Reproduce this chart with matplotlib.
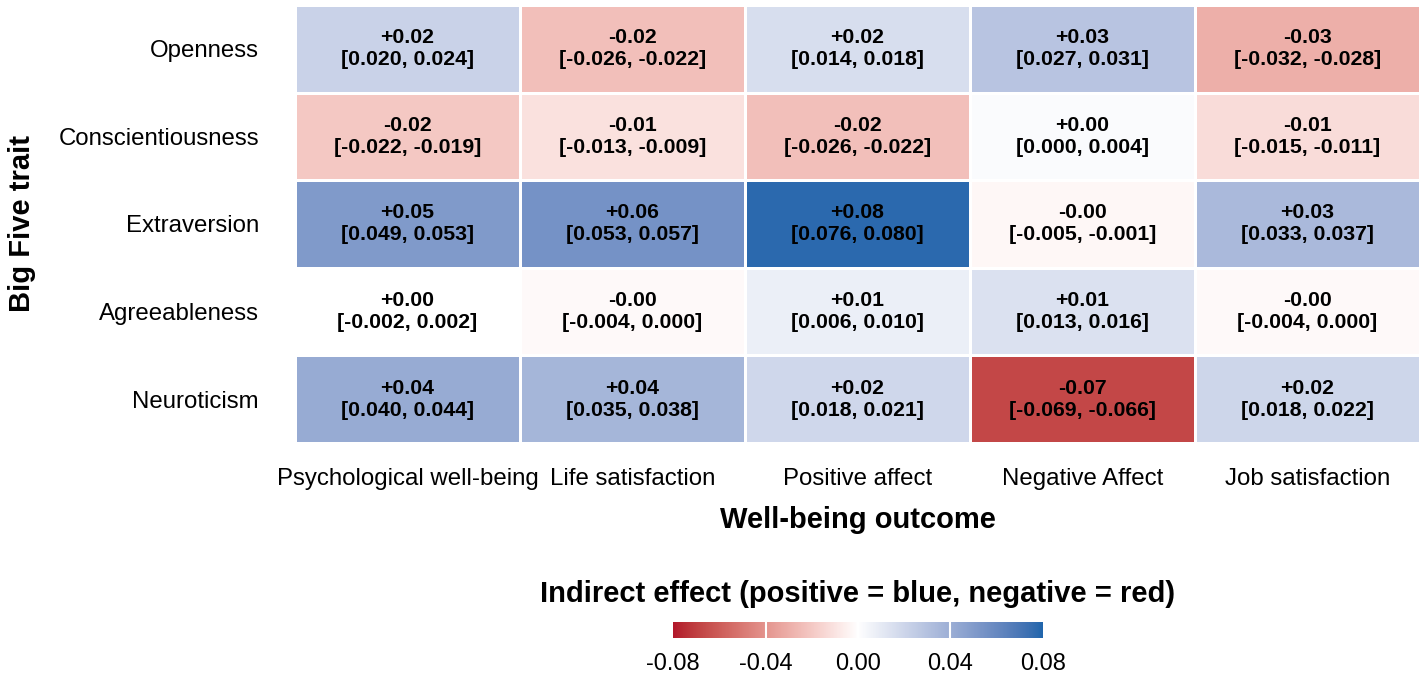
import numpy as np
import matplotlib
matplotlib.use("Agg")
import matplotlib.pyplot as plt
from matplotlib.colors import ListedColormap, Normalize

plt.rcParams['font.family'] = ['Liberation Sans', 'DejaVu Sans']

traits = ["Openness", "Conscientiousness", "Extraversion", "Agreeableness", "Neuroticism"]
outcomes = ["Psychological well-being", "Life satisfaction", "Positive affect",
            "Negative Affect", "Job satisfaction"]

# point estimates (rows = traits, cols = outcomes)
est = [
    [0.022, -0.024, 0.016, 0.029, -0.030],
    [-0.0205, -0.011, -0.024, 0.002, -0.013],
    [0.051, 0.055, 0.078, -0.003, 0.0345],
    [0.000, -0.002, 0.008, 0.0145, -0.002],
    [0.042, 0.0365, 0.0195, -0.0675, 0.020],
]
ci_low = [
    [0.020, -0.026, 0.014, 0.027, -0.032],
    [-0.022, -0.013, -0.026, 0.000, -0.015],
    [0.049, 0.053, 0.076, -0.005, 0.033],
    [-0.002, -0.004, 0.006, 0.013, -0.004],
    [0.040, 0.035, 0.018, -0.069, 0.018],
]
ci_high = [
    [0.024, -0.022, 0.018, 0.031, -0.028],
    [-0.019, -0.009, -0.022, 0.004, -0.011],
    [0.053, 0.057, 0.080, -0.001, 0.037],
    [0.002, 0.000, 0.010, 0.016, 0.000],
    [0.044, 0.038, 0.021, -0.066, 0.022],
]
cbar_ticks = [-0.08, -0.04, 0.00, 0.04, 0.08]

# ---- Lab-interpolated diverging colormap (like ggplot2 scale_fill_gradient2) ----
def hex2rgb(h):
    h = h.lstrip('#')
    return np.array([int(h[i:i+2], 16) / 255 for i in (0, 2, 4)])

M = np.array([[0.4124564, 0.3575761, 0.1804375],
              [0.2126729, 0.7151522, 0.0721750],
              [0.0193339, 0.1191920, 0.9503041]])
WP = np.array([0.95047, 1.0, 1.08883])

def rgb2lab(c):
    lin = np.where(c <= 0.04045, c / 12.92, ((c + 0.055) / 1.055) ** 2.4)
    xyz = M @ lin / WP
    d = 6 / 29
    f = np.where(xyz > d ** 3, np.cbrt(xyz), xyz / (3 * d * d) + 4 / 29)
    return np.array([116 * f[1] - 16, 500 * (f[0] - f[1]), 200 * (f[1] - f[2])])

def lab2rgb(lab):
    L, a, b = lab
    fy = (L + 16) / 116
    fx = fy + a / 500
    fz = fy - b / 200
    d = 6 / 29
    f = np.array([fx, fy, fz])
    xyz = np.where(f > d, f ** 3, 3 * d * d * (f - 4 / 29)) * WP
    lin = np.linalg.solve(M, xyz)
    lin = np.clip(lin, 0, 1)
    c = np.where(lin <= 0.0031308, 12.92 * lin, 1.055 * lin ** (1 / 2.4) - 0.055)
    return np.clip(c, 0, 1)

low, mid, high = rgb2lab(hex2rgb("#b2182b")), rgb2lab(hex2rgb("#ffffff")), rgb2lab(hex2rgb("#2166ac"))
N = 512
cols = []
for t in np.linspace(-1, 1, N):
    if t < 0:
        lab = mid + (low - mid) * (-t)
    else:
        lab = mid + (high - mid) * t
    cols.append(lab2rgb(lab))
cmap = ListedColormap(cols)
norm = Normalize(vmin=-0.08, vmax=0.08)

W, H = 1427, 675
fig = plt.figure(figsize=(W / 100, H / 100), dpi=100)

ax = fig.add_axes([295 / W, 1 - 443 / H, 1125 / W, 438 / H])
data = np.array(est)
ax.pcolormesh(np.arange(len(outcomes) + 1), np.arange(len(traits) + 1), data,
              cmap=cmap, norm=norm, edgecolors='white', linewidth=1.8)
ax.set_xlim(0, len(outcomes))
ax.set_ylim(len(traits), 0)
for i in range(len(traits)):
    for j in range(len(outcomes)):
        txt = f"{est[i][j]:+.2f}\n[{ci_low[i][j]:.3f}, {ci_high[i][j]:.3f}]"
        ax.text(j + 0.5, i + 0.5, txt, ha='center', va='center', fontsize=15.3,
                fontweight='bold', color='black', linespacing=1.2)

ax.set_xticks(np.arange(len(outcomes)) + 0.5)
ax.set_xticklabels(outcomes, fontsize=17.3)
ax.set_yticks(np.arange(len(traits)) + 0.5)
ax.set_yticklabels(traits, fontsize=17.3)
ax.tick_params(length=0, pad=26)
ax.tick_params(axis='x', pad=18)
for s in ax.spines.values():
    s.set_visible(False)

fig.text(858 / W, 1 - 520 / H, "Well-being outcome", ha='center', va='center',
         fontsize=21, fontweight='bold')
fig.text(22 / W, 1 - 224 / H, "Big Five trait", ha='center', va='center',
         fontsize=21, fontweight='bold', rotation=90)
fig.text(858 / W, 1 - 594 / H, "Indirect effect (positive = blue, negative = red)",
         ha='center', va='center', fontsize=21, fontweight='bold')

# colorbar
cax = fig.add_axes([673 / W, 1 - 638 / H, 370 / W, 16 / H])
grad = np.linspace(-0.08, 0.08, 400).reshape(1, -1)
cax.imshow(grad, cmap=cmap, norm=norm, aspect='auto',
           extent=[-0.08, 0.08, 0, 1])
for t in cbar_ticks[1:-1]:
    cax.axvline(t, color='white', lw=1.5)
cax.set_xlim(-0.08, 0.08)
cax.set_ylim(0, 1)
cax.set_yticks([])
cax.set_xticks(cbar_ticks)
cax.set_xticklabels([f"{t:.2f}" for t in cbar_ticks], fontsize=17)
cax.tick_params(length=0, pad=11)
for s in cax.spines.values():
    s.set_visible(False)

fig.savefig("out.png", dpi=100)
